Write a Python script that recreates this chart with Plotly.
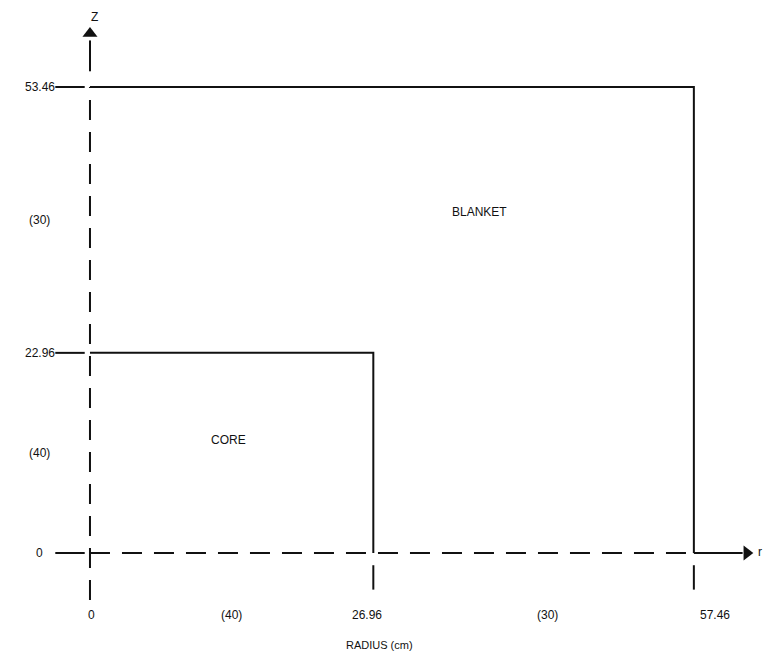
import plotly.graph_objects as go

# Geometry values (cm)
radius_ticks = [0, 26.96, 57.46]
radius_tick_labels = ["0", "26.96", "57.46"]
z_ticks = [0, 22.96, 53.46]
z_tick_labels = ["0", "22.96", "53.46"]
radial_mesh = ["(40)", "(30)"]
axial_mesh = ["(40)", "(30)"]
regions = ["CORE", "BLANKET"]

r_core, r_out = radius_ticks[1], radius_ticks[2]
z_core, z_out = z_ticks[1], z_ticks[2]

BLACK = "#111111"
FONT = dict(family="Liberation Sans, Arial, sans-serif", size=12, color=BLACK)
DASH = "20px,12px"

fig = go.Figure()

def line(xs, ys, dash="solid", width=2):
    fig.add_trace(go.Scatter(x=xs, y=ys, mode="lines",
                             line=dict(color=BLACK, width=width, dash=dash),
                             hoverinfo="skip", showlegend=False))

# Solid region boundaries
line([0, r_out, r_out], [z_out, z_out, 0])
line([0, r_core, r_core], [z_core, z_core, 0])

# Dashed axes
line([0, 0], [-5.4, z_out], dash=DASH)
line([0, r_out], [0, 0], dash=DASH)
# solid axis continuations toward arrows
line([r_out, 62.1], [0, 0])
line([0, 0], [z_out + 1.8, 58.8])

# Arrowheads (as markers)
fig.add_trace(go.Scatter(x=[0], y=[59.6], mode="markers",
                         marker=dict(symbol="triangle-up", size=13, color=BLACK),
                         hoverinfo="skip", showlegend=False))
fig.add_trace(go.Scatter(x=[62.5], y=[0], mode="markers",
                         marker=dict(symbol="triangle-right", size=13, color=BLACK),
                         hoverinfo="skip", showlegend=False))

# Tick marks on Z side
for z in z_ticks:
    line([-3.3, -0.5], [z, z])
# Tick marks below R axis
for r in radius_ticks[1:]:
    line([r, r], [-1.4, -4.2])

# Axis name "r" at the right end of the radius arrow
fig.add_trace(go.Scatter(x=[63.75], y=[0], mode="text", text=["r"],
                         textfont=FONT, textposition="middle center",
                         hoverinfo="skip", showlegend=False, cliponaxis=False))

annotations = []
# Axis names
annotations.append(dict(x=0.4, y=62.52, xref="x", yref="y", text="Z",
                        showarrow=False, font=FONT, yanchor="top"))
annotations.append(dict(x=r_core + 0.6, y=-10.6, xref="x", yref="y",
                        text="RADIUS (cm)", showarrow=False,
                        font=dict(FONT, size=11)))

# Z tick labels
for z, lab in zip(z_ticks, z_tick_labels):
    annotations.append(dict(x=-4.8, y=z, xref="x", yref="y", text=lab,
                            showarrow=False, font=FONT))
# Axial mesh counts
annotations.append(dict(x=-4.8, y=z_core / 2, xref="x", yref="y", text=axial_mesh[0],
                        showarrow=False, font=FONT))
annotations.append(dict(x=-4.8, y=(z_core + z_out) / 2, xref="x", yref="y",
                        text=axial_mesh[1], showarrow=False, font=FONT))

# Radius tick labels
label_x = [0.1, 26.35, 59.5]
for lx, lab in zip(label_x, radius_tick_labels):
    annotations.append(dict(x=lx, y=-7.1, xref="x", yref="y", text=lab,
                            showarrow=False, font=FONT))
annotations.append(dict(x=13.5, y=-7.1, xref="x", yref="y",
                        text=radial_mesh[0], showarrow=False, font=FONT))
annotations.append(dict(x=43.5, y=-7.1, xref="x", yref="y",
                        text=radial_mesh[1], showarrow=False, font=FONT))

# Region labels
annotations.append(dict(x=13.2, y=13.0, xref="x", yref="y",
                        text=regions[0], showarrow=False, font=FONT))
annotations.append(dict(x=37.1, y=39.1, xref="x", yref="y",
                        text=regions[1], showarrow=False, font=FONT))

# Page body has an 8px margin, so the figure is sized to avoid scrollbars
fig.update_layout(
    width=763, height=645,
    margin=dict(l=0, r=0, t=0, b=0),
    paper_bgcolor="white", plot_bgcolor="white",
    xaxis=dict(range=[-7.80, 64.80], visible=False, fixedrange=True),
    yaxis=dict(range=[-11.47, 62.52], visible=False, fixedrange=True),
    annotations=annotations,
    showlegend=False,
)

fig.write_html("out.html")
